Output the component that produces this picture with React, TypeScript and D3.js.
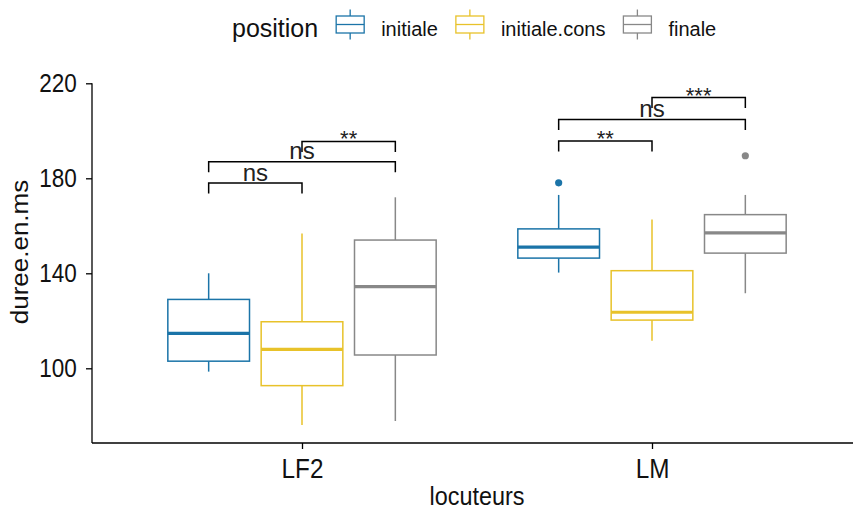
import * as React from 'react'
import { useEffect, useRef } from 'react'
import * as d3 from 'd3'

const locuteurs = ['LF2', 'LM'];
const positions = ['initiale', 'initiale.cons', 'finale'];
const colors = ['#1B74A8', '#E8C22A', '#888888'];

// rows = locuteur, columns = position
const whiskerLow = [[98.6, 76.1, 77.8], [140.3, 111.6, 131.6]];
const quart1 = [[103, 92.7, 105.6], [146.4, 120.3, 148.5]];
const medians = [[114.7, 108, 134.4], [151, 123.6, 157]];
const quart3 = [[129, 119.6, 154], [158.7, 141.1, 164.7]];
const whiskerHigh = [[140, 156.8, 172], [173, 162.7, 173]];

const outlierLoc = ['LM', 'LM'];
const outlierPos = ['initiale', 'finale'];
const outlierVal = [178.1, 189.5];

const bracketLoc = ['LF2', 'LF2', 'LF2', 'LM', 'LM', 'LM'];
const bracketFrom = ['initiale', 'initiale', 'initiale.cons', 'initiale', 'initiale', 'initiale.cons'];
const bracketTo = ['initiale.cons', 'finale', 'finale', 'initiale.cons', 'finale', 'finale'];
const bracketY = [178, 187, 195.5, 195.7, 204.8, 214];
const bracketLabel = ['ns', 'ns', '**', '**', 'ns', '***'];

const yTicks = [100, 140, 180, 220];

const FONT = "'Liberation Sans', Arial, sans-serif";

const App = () => {
    const chartRef = useRef<SVGSVGElement>(null);

    useEffect(() => {
        const width = 853, height = 511;
        const svg = d3.select(chartRef.current);
        svg.selectAll('*').remove();

        const left = 92, axisY = 443;
        const x = d3.scalePoint<string>().domain(locuteurs).range([left, 862]).padding(0.6);
        const dodge = d3.scaleBand<string>().domain(positions)
            .range([-0.4 * x.step(), 0.4 * x.step()]);
        const y = d3.scaleLinear().domain([100, 220]).range([368.3, 83.3]);
        const color = d3.scaleOrdinal<string, string>().domain(positions).range(colors);
        const boxW = dodge.bandwidth() * 0.875;
        const cx = (loc: string, pos: string) => (x(loc) as number) + (dodge(pos) as number) + dodge.bandwidth() / 2;

        const rows = locuteurs.flatMap((loc, i) => positions.map((pos, j) => ({
            loc, pos,
            lo: whiskerLow[i][j], q1: quart1[i][j], med: medians[i][j],
            q3: quart3[i][j], hi: whiskerHigh[i][j]
        })));

        // boxes
        const box = svg.append('g').selectAll('g')
            .data(rows)
            .enter()
            .append('g')
            .attr('stroke', d => color(d.pos))
            .attr('fill', 'none');

        box.append('line')
            .attr('x1', d => cx(d.loc, d.pos)).attr('x2', d => cx(d.loc, d.pos))
            .attr('y1', d => y(d.hi)).attr('y2', d => y(d.q3))
            .attr('stroke-width', 1.5);
        box.append('line')
            .attr('x1', d => cx(d.loc, d.pos)).attr('x2', d => cx(d.loc, d.pos))
            .attr('y1', d => y(d.q1)).attr('y2', d => y(d.lo))
            .attr('stroke-width', 1.5);
        box.append('rect')
            .attr('x', d => cx(d.loc, d.pos) - boxW / 2)
            .attr('y', d => y(d.q3))
            .attr('width', boxW)
            .attr('height', d => y(d.q1) - y(d.q3))
            .attr('fill', 'white')
            .attr('stroke-width', 1.5);
        box.append('line')
            .attr('x1', d => cx(d.loc, d.pos) - boxW / 2).attr('x2', d => cx(d.loc, d.pos) + boxW / 2)
            .attr('y1', d => y(d.med)).attr('y2', d => y(d.med))
            .attr('stroke-width', 3.2);

        // outliers
        svg.append('g').selectAll('circle')
            .data(outlierVal)
            .enter()
            .append('circle')
            .attr('cx', (d, i) => cx(outlierLoc[i], outlierPos[i]))
            .attr('cy', d => y(d))
            .attr('r', 3.6)
            .attr('fill', (d, i) => color(outlierPos[i]));

        // significance brackets
        const tip = 10.5;
        const br = svg.append('g').selectAll('g')
            .data(bracketY)
            .enter()
            .append('g');
        br.append('path')
            .attr('d', (d, i) => {
                const x1 = cx(bracketLoc[i], bracketFrom[i]);
                const x2 = cx(bracketLoc[i], bracketTo[i]);
                const yy = y(d);
                return `M${x1},${yy + tip}L${x1},${yy}L${x2},${yy}L${x2},${yy + tip}`;
            })
            .attr('fill', 'none')
            .attr('stroke', 'black')
            .attr('stroke-width', 1.5);
        br.append('text')
            .attr('x', (d, i) => (cx(bracketLoc[i], bracketFrom[i]) + cx(bracketLoc[i], bracketTo[i])) / 2)
            .attr('y', (d, i) => bracketLabel[i] === 'ns' ? y(d) - 2.5 : y(d) + 5)
            .attr('text-anchor', 'middle')
            .style('font-family', FONT)
            .style('font-size', (d, i) => bracketLabel[i] === 'ns' ? '24px' : '22px')
            .attr('fill', '#222')
            .text((d, i) => bracketLabel[i]);

        // y axis
        const yAxis = svg.append('g')
            .attr('transform', `translate(${left}, 0)`)
            .call(d3.axisLeft(y).tickValues(yTicks).tickSize(6).tickPadding(11).tickSizeOuter(0));
        yAxis.select('.domain').remove();
        yAxis.selectAll('line').attr('stroke', 'black').attr('stroke-width', 1.3);
        yAxis.selectAll('text')
            .attr('transform', 'scale(0.9,1)')
            .style('font-family', FONT)
            .style('font-size', '25px')
            .attr('fill', '#111');
        svg.append('line')
            .attr('x1', left).attr('x2', left)
            .attr('y1', y(220)).attr('y2', axisY)
            .attr('stroke', 'black').attr('stroke-width', 1.3);

        // x axis
        const xAxis = svg.append('g')
            .attr('transform', `translate(0, ${axisY})`)
            .call(d3.axisBottom(x).tickSize(6).tickSizeOuter(0));
        xAxis.select('.domain').remove();
        xAxis.selectAll('line').attr('stroke', 'black').attr('stroke-width', 1.3);
        xAxis.selectAll('text')
            .attr('y', 35)
            .attr('dy', 0)
            .attr('transform', 'scale(0.9,1)')
            .style('font-family', FONT)
            .style('font-size', '27px')
            .attr('fill', '#111');
        svg.append('line')
            .attr('x1', left).attr('x2', width)
            .attr('y1', axisY).attr('y2', axisY)
            .attr('stroke', 'black').attr('stroke-width', 1.3);

        // axis titles
        svg.append('text')
            .attr('transform', `translate(${(left + 862) / 2}, 505) scale(0.9,1)`)
            .attr('text-anchor', 'middle')
            .style('font-family', FONT)
            .style('font-size', '26px')
            .attr('fill', '#111')
            .text('locuteurs');
        svg.append('text')
            .attr('transform', `translate(28, 252) rotate(-90) scale(1,0.92)`)
            .attr('text-anchor', 'middle')
            .style('font-family', FONT)
            .style('font-size', '26px')
            .attr('fill', '#111')
            .text('duree.en.ms');

        // legend
        const legend = svg.append('g');
        const title = legend.append('text')
            .attr('x', 232).attr('y', 37)
            .style('font-family', FONT)
            .style('font-size', '25px')
            .attr('fill', '#111')
            .text('position');
        let lx = 232 + (title.node() as SVGTextElement).getComputedTextLength() + 18;
        const keyMid = 24.5;
        positions.forEach((pos) => {
            const k = legend.append('g').attr('stroke', color(pos)).attr('fill', 'white').attr('stroke-width', 1.3);
            const kc = lx + 14;
            k.append('line').attr('x1', kc).attr('x2', kc).attr('y1', keyMid - 15).attr('y2', keyMid + 15);
            k.append('rect').attr('x', lx).attr('y', keyMid - 8.5).attr('width', 28).attr('height', 17);
            k.append('line').attr('x1', lx).attr('x2', lx + 28).attr('y1', keyMid).attr('y2', keyMid);
            const t = legend.append('text')
                .attr('x', lx + 28 + 17).attr('y', 36)
                .style('font-family', FONT)
                .style('font-size', '20px')
                .attr('fill', '#111')
                .text(pos);
            lx = lx + 28 + 17 + (t.node() as SVGTextElement).getComputedTextLength() + 18;
        });

        svg.attr('width', width).attr('height', height);
    }, []);

    return (
        <>
            <svg ref={chartRef} width={853} height={511}
                style={{ position: 'absolute', left: 0, top: 0, background: 'white' }}></svg>
        </>
    )
}

export default App
